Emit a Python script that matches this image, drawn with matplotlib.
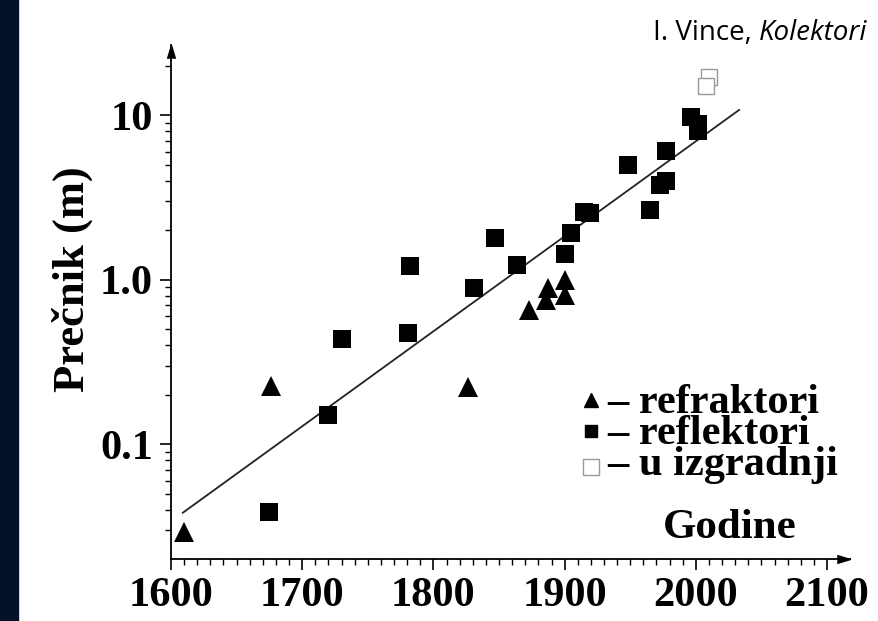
import matplotlib
matplotlib.use('Agg')
import matplotlib.pyplot as plt
from matplotlib.patches import Rectangle
from matplotlib.ticker import FixedLocator, FixedFormatter, LogLocator, NullFormatter

# refraktori (triangles)
refr_years = [1610, 1676, 1826, 1873, 1886, 1887, 1900, 1900]
refr_diam = [0.0294, 0.227, 0.222, 0.66, 0.756, 0.894, 1.0, 0.81]

# reflektori (filled squares)
refl_years = [1675, 1720, 1730, 1781, 1782, 1831, 1847, 1864, 1900, 1905,
              1915, 1919, 1948, 1965, 1973, 1977, 1977, 1996, 2002, 2002]
refl_diam = [0.0386, 0.151, 0.438, 0.476, 1.22, 0.888, 1.80, 1.24, 1.44, 1.93,
             2.6, 2.55, 4.97, 2.65, 3.8, 4.0, 6.08, 9.8, 8.9, 8.06]

# u izgradnji (open squares)
build_years = [2010, 2008]
build_diam = [17.1, 15.0]

# trend line ends
trend_years = [1609, 2033]
trend_diam = [0.0384, 10.8]

x_ticks = [1600, 1700, 1800, 1900, 2000, 2100]
y_ticks = [0.1, 1, 10]
y_labels = ['0.1', '1.0', '10']
legend_labels = ['refraktori', 'reflektori', 'u izgradnji']

serif = {'family': 'Liberation Serif', 'weight': 'bold'}

fig = plt.figure(figsize=(8.79, 6.21), dpi=100)
fig.patches.append(Rectangle((0, 0), 18 / 879, 1, transform=fig.transFigure,
                             color='#031229', zorder=0))

ax = fig.add_axes([171 / 879, 62 / 621, 679 / 879, 514 / 621])
ax.set_yscale('log')
ax.set_xlim(1600, 2117.5)
ax.set_ylim(0.0201, 26.8)

ax.plot(trend_years, trend_diam, color='#222222', lw=1.3, zorder=2)
ax.plot(refl_years, refl_diam, 's', color='black', ms=12.5, mew=0, zorder=3)
ax.plot(refr_years, refr_diam, '^', color='black', ms=14, mew=0, zorder=3)
ax.plot(build_years, build_diam, 's', mfc='white', mec='#999999', ms=12, mew=1, zorder=3)

for side in ['top', 'right']:
    ax.spines[side].set_visible(False)
for side in ['left', 'bottom']:
    ax.spines[side].set_linewidth(1.3)

ax.xaxis.set_major_locator(FixedLocator(x_ticks))
ax.xaxis.set_minor_locator(FixedLocator(list(range(1600, 2101, 10))))
ax.yaxis.set_major_locator(FixedLocator(y_ticks))
ax.yaxis.set_major_formatter(FixedFormatter(y_labels))
ax.yaxis.set_minor_locator(LogLocator(subs=range(2, 10)))
ax.yaxis.set_minor_formatter(NullFormatter())
ax.tick_params(which='major', length=8, width=1.2, direction='out', pad=5)
ax.tick_params(which='minor', length=4.5, width=1, direction='out')
for lab in ax.get_xticklabels() + ax.get_yticklabels():
    lab.set_fontfamily('Liberation Serif')
    lab.set_fontweight('bold')
    lab.set_fontsize(30.5)

# arrow heads
ax.plot(1, 0, marker=[(-2, -0.6), (0, 0), (-2, 0.6)], ms=19, color='black',
        transform=ax.transAxes, clip_on=False)
ax.plot(0, 1, marker=[(-0.6, -2), (0, 0), (0.6, -2)], ms=19, color='black',
        transform=ax.transAxes, clip_on=False)

# axis titles
fig.text(72 / 879, 1 - 279 / 621, 'Prečnik (m)', rotation=90, ha='center',
         va='center', fontsize=32, **serif)
ax.text(0.823, 0.04, 'Godine', ha='center', va='baseline', fontsize=31,
        transform=ax.transAxes, **serif)

# legend: markers drawn separately, labels as one text block
legend_marks = [('^', 'black', 'black', 10.5, 0.310),
                ('s', 'black', 'black', 8.5, 0.250),
                ('s', 'white', '#999999', 12, 0.179)]
for mk, fc, ec, ms, y in legend_marks:
    ax.plot(0.619, y, mk, mfc=fc, mec=ec, ms=ms, mew=1, transform=ax.transAxes,
            clip_on=False)
ax.text(0.642, 0.163, '\n'.join('– ' + s for s in legend_labels), ha='left',
        va='baseline', fontsize=30.5, linespacing=0.76, transform=ax.transAxes,
        **serif)

# header: author plain, title italic
t = fig.text(867 / 879, 1 - 40 / 621, 'Kolektori', ha='right', va='baseline',
             fontsize=20, family='Open Sans', style='italic')
ax.annotate('I. Vince, ', xy=(0, 0), xycoords=t, ha='right', va='bottom',
            fontsize=20, family='Open Sans', annotation_clip=False)

fig.savefig('out.png', dpi=100)
